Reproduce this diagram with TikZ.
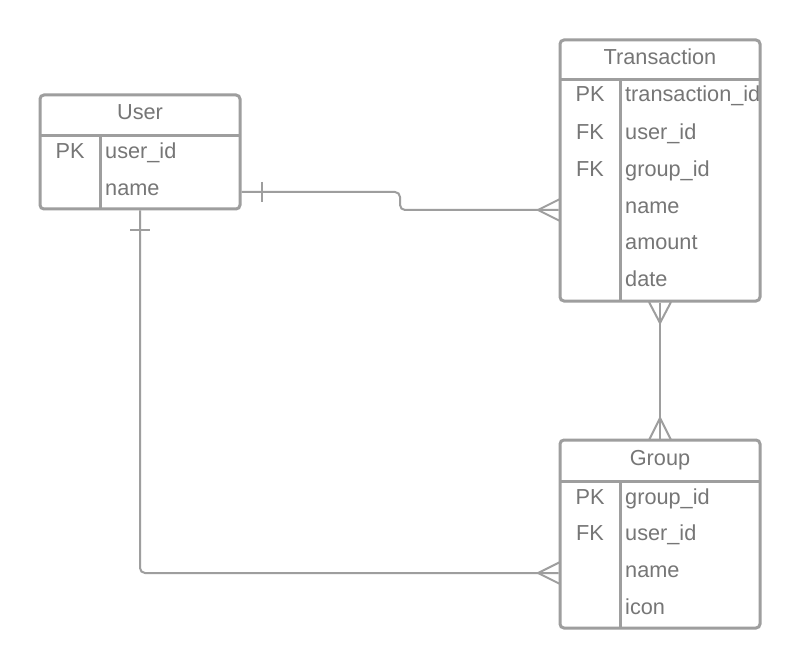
\documentclass[tikz,border=0pt]{standalone}
\usepackage{fontspec}
\setmainfont{Liberation Sans}
\usetikzlibrary{calc}
\definecolor{lin}{HTML}{9E9E9E}
\definecolor{txt}{HTML}{767676}
\begin{document}
\begin{tikzpicture}[x=1pt,y=-1pt,
  tbl/.style={draw=lin,line width=3pt,rounded corners=4pt,minimum width=200pt,inner sep=0pt,fill=white},
  sepline/.style={draw=lin,line width=3pt},
  conn/.style={draw=lin,line width=2pt,rounded corners=5pt},
  tick/.style={draw=lin,line width=2pt},
  ttl/.style={text=txt,anchor=base,inner sep=0pt,font=\fontsize{21.7}{24}\selectfont},
  fld/.style={text=txt,anchor=base west,inner sep=0pt,font=\fontsize{21.7}{24}\selectfont}]
\fill[white] (0,0) rectangle (800,668);
\useasboundingbox (0,0) rectangle (800,668);

% tables
\node[tbl,minimum height=114pt] (user) at (140,152) {};
\node[tbl,minimum height=261pt] (trans) at (660,170.5) {};
\node[tbl,minimum height=188pt] (group) at (660,534) {};

% separators
\draw[sepline] (40,136) -- (240,136);
\draw[sepline] (100,136) -- (100,209);
\draw[sepline] (560,80) -- (760,80);
\draw[sepline] (620,80) -- (620,301);
\draw[sepline] (560,481) -- (760,481);
\draw[sepline] (620,481) -- (620,628);

% User texts
\node[ttl] (uT) at (140,120) {User};
\node[ttl] (uK1) at (70,159) {PK};
\node[fld] (uF1) at (105,159) {user\_id};
\node[fld] (uF2) at (105,195.5) {name};

% Transaction texts
\node[ttl] (tT) at (660,65) {Transaction};
\node[ttl] (tK1) at (590,102) {PK};
\node[ttl] (tK2) at (590,140) {FK};
\node[ttl] (tK3) at (590,177) {FK};
\begin{scope}
\clip (560,80) rectangle (758.5,301);
\node[fld] (tF1) at (625,102) {transaction\_id};
\end{scope}
\node[fld] (tF2) at (625,140) {user\_id};
\node[fld] (tF3) at (625,177) {group\_id};
\node[fld] (tF4) at (625,214) {name};
\node[fld] (tF5) at (625,250) {amount};
\node[fld] (tF6) at (625,287) {date};

% Group texts
\node[ttl] (gT) at (660,465) {Group};
\node[ttl] (gK1) at (590,504) {PK};
\node[ttl] (gK2) at (590,540) {FK};
\node[fld] (gF1) at (625,504) {group\_id};
\node[fld] (gF2) at (625,540) {user\_id};
\node[fld] (gF3) at (625,577) {name};
\node[fld] (gF4) at (625,614) {icon};

% connector coordinates
\coordinate (ua) at (241.5,192);
\coordinate (ta) at (558.5,210);
\coordinate (ub) at (140,210.5);
\coordinate (ga) at (558.5,573);
\coordinate (tb) at (660,302.5);
\coordinate (gb) at (660,438.5);

% User -- Transaction
\draw[conn] (ua) -- (400,192) -- (400,210) -- (ta);
\draw[tick] (262,182) -- (262,202);
\draw[tick] (560,199) -- (538,210) -- (560,221);

% User -- Group
\draw[conn] (ub) -- (140,573) -- (ga);
\draw[tick] (130,230) -- (150,230);
\draw[tick] (560,562) -- (538,573) -- (560,584);

% Transaction -- Group
\draw[conn] (tb) -- (gb);
\draw[tick] (649,302) -- (660,323) -- (671,302);
\draw[tick] (649,440) -- (660,418) -- (671,440);
\end{tikzpicture}
\end{document}
